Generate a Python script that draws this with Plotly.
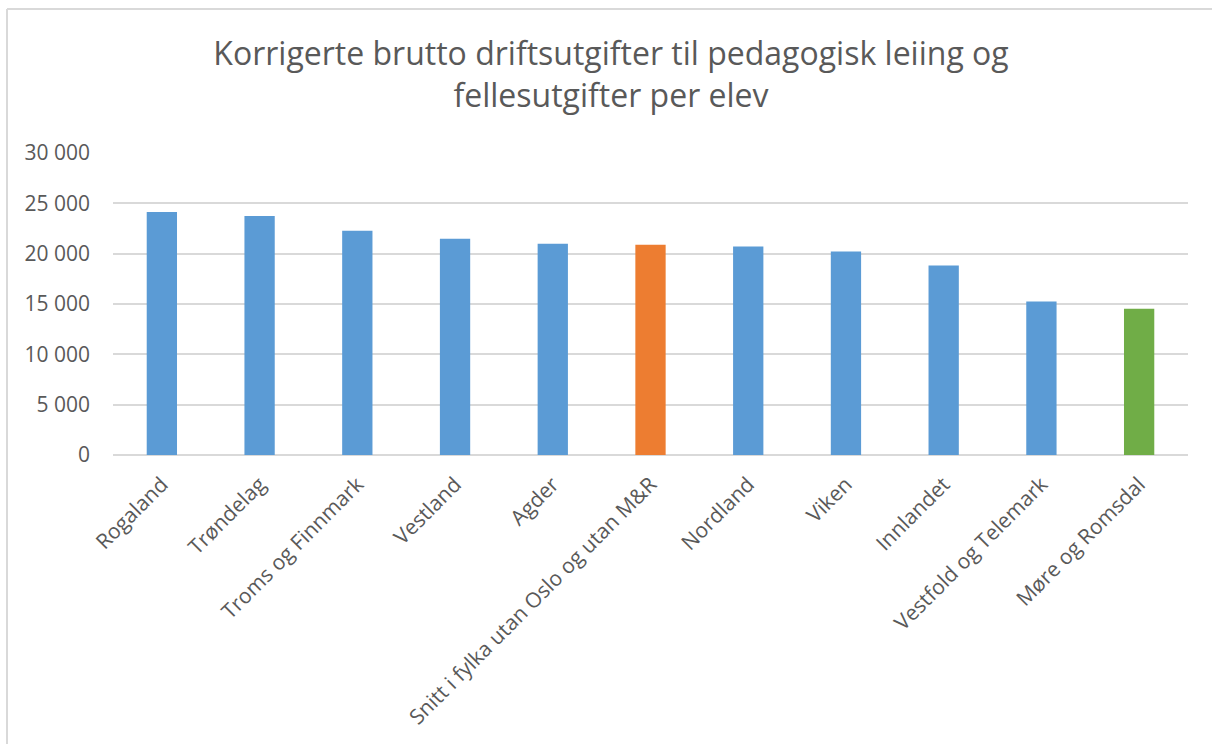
import plotly.graph_objects as go

# Fylke og verdiar (kr per elev)
fylke = [
    "Rogaland", "Trøndelag", "Troms og Finnmark", "Vestland", "Agder",
    "Snitt i fylka utan Oslo og utan M&R", "Nordland", "Viken",
    "Innlandet", "Vestfold og Telemark", "Møre og Romsdal",
]
utgifter = [24130, 23740, 22270, 21480, 20980, 20880, 20710, 20220, 18830, 15250, 14520]
fargar = ["#5B9BD5"] * 5 + ["#ED7D31"] + ["#5B9BD5"] * 4 + ["#70AD47"]

y_ticks = [0, 5000, 10000, 15000, 20000, 25000, 30000]

W, H = 1212, 744
ML, MR, MT, MB = 113, 24, 153, 289
PW, PH = W - ML - MR, H - MT - MB

def px_x(x):
    return (x - ML) / PW

def px_y(y):
    return (H - MB - y) / PH

fig = go.Figure(
    go.Bar(
        x=fylke,
        y=utgifter,
        marker=dict(color=fargar, line=dict(width=0)),
        hoverinfo="x+y",
    )
)

border = dict(color="#D9D9D9", width=2)
fig.add_shape(type="line", xref="paper", yref="paper",
              x0=px_x(7), x1=px_x(W + 5), y0=px_y(9), y1=px_y(9), line=border)
fig.add_shape(type="line", xref="paper", yref="paper",
              x0=px_x(7), x1=px_x(7), y0=px_y(9), y1=px_y(H + 5), line=border)

fig.update_layout(
    width=W,
    height=H,
    margin=dict(l=ML, r=MR, t=MT, b=MB, autoexpand=False),
    paper_bgcolor="white",
    plot_bgcolor="white",
    separators=", ",
    showlegend=False,
    bargap=0.69,
    title=dict(
        text="Korrigerte brutto driftsutgifter til pedagogisk leiing og<br>fellesutgifter per elev",
        x=611 / W,
        xanchor="center",
        xref="container",
        y=1 - 65 / H,
        yanchor="top",
        yref="container",
        font=dict(family="Open Sans", size=32, color="#595959"),
    ),
    font=dict(family="Open Sans", color="#595959"),
    xaxis=dict(
        tickangle=-45,
        tickfont=dict(size=21, color="#595959"),
        showgrid=False,
        showline=False,
        ticks="",
        ticklabelstandoff=12,
    ),
    yaxis=dict(
        range=[0, 30000],
        tickvals=y_ticks,
        tickformat=",d",
        tickfont=dict(size=21, color="#595959"),
        showgrid=True,
        gridcolor="#D9D9D9",
        gridwidth=1.5,
        zeroline=True,
        zerolinecolor="#D9D9D9",
        zerolinewidth=1.5,
        showline=False,
        ticks="",
        ticklabelstandoff=22,
    ),
)

fig.write_html("out.html")
